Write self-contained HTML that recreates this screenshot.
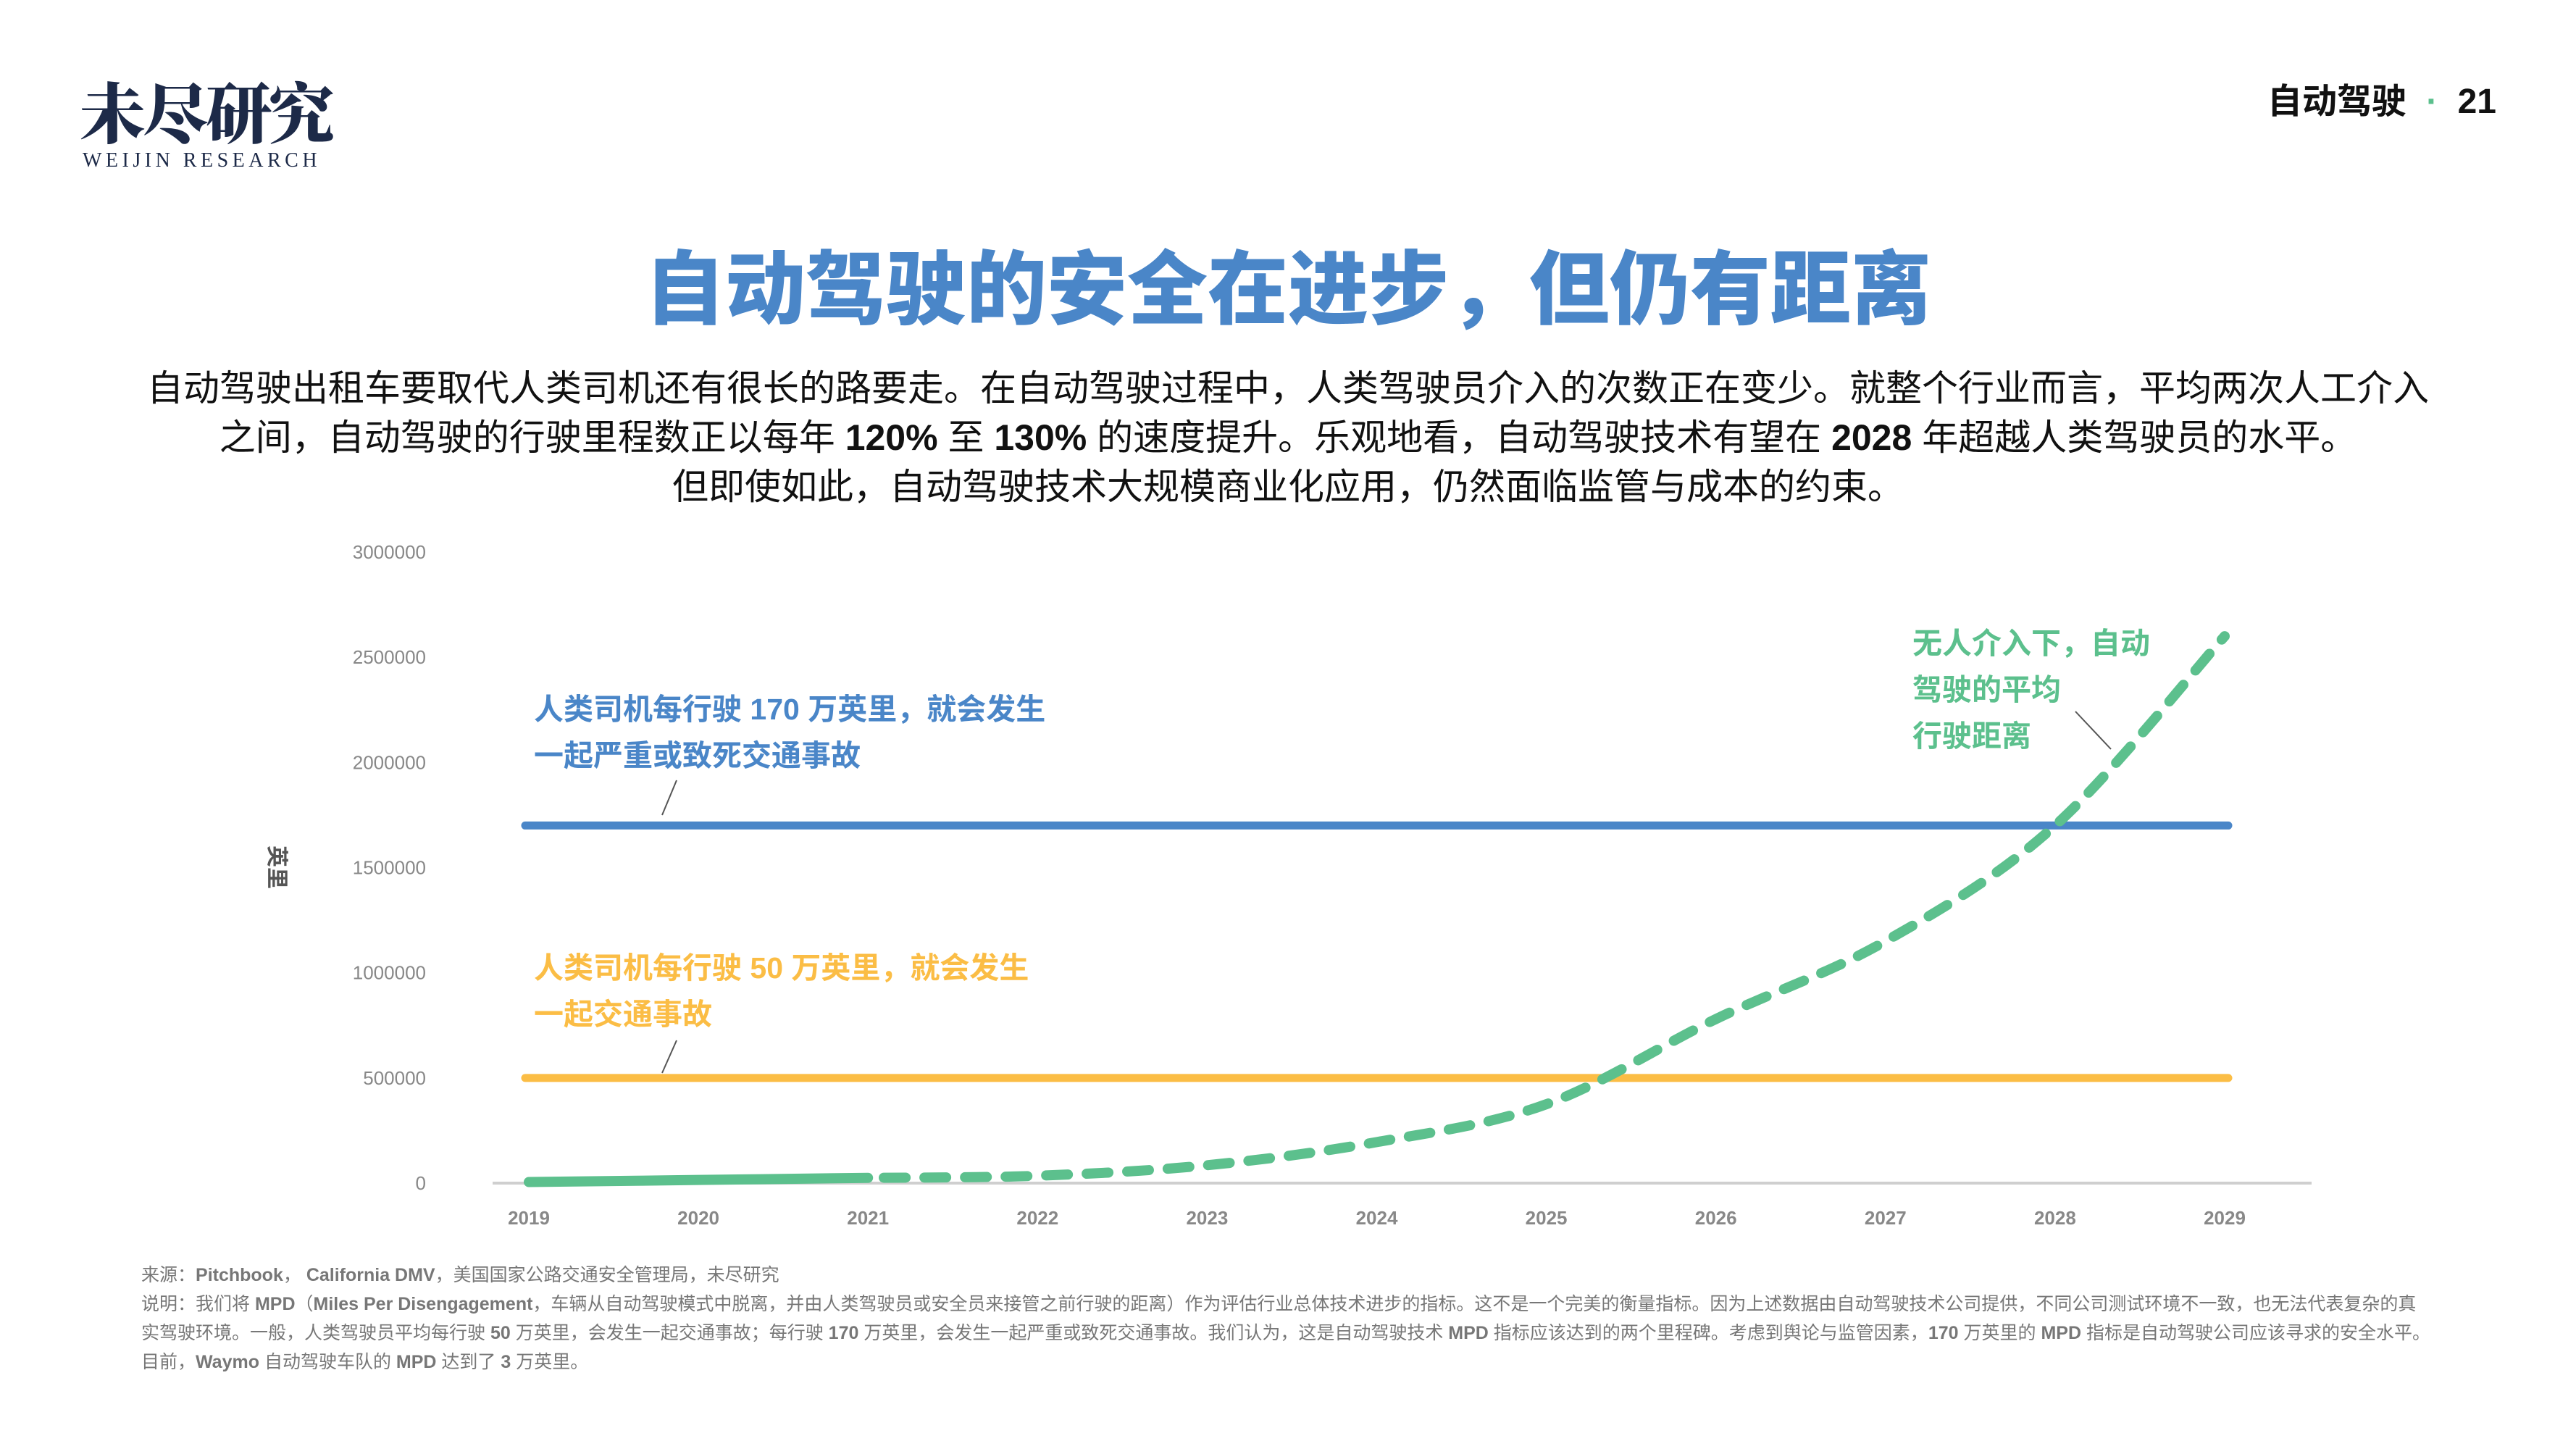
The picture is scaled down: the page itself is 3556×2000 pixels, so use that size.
<!DOCTYPE html>
<html><head><meta charset="utf-8">
<style>
html,body{margin:0;padding:0;background:#fff;}
body{width:3556px;height:2000px;position:relative;overflow:hidden;font-family:"Liberation Sans","Noto Sans CJK SC",sans-serif;}
.abs{position:absolute;}
</style></head>
<body>
<div class="abs" style="left:110px;top:100px;">
  <div style="font-family:'Noto Serif CJK SC',serif;font-weight:900;font-size:91px;color:#1d2a48;letter-spacing:-4px;line-height:104px;">未尽研究</div>
  <div style="font-family:'Liberation Serif',serif;font-size:28px;color:#1d2a48;letter-spacing:5.5px;margin-top:2px;margin-left:4px;">WEIJIN RESEARCH</div>
</div>
<div class="abs" style="right:110px;top:100px;font-size:48px;font-weight:bold;color:#111;font-family:'Liberation Sans','Noto Sans CJK SC',sans-serif;">自动驾驶 <span style="color:#5bbf8c;margin:0 14px;">·</span> 21</div>
<div class="abs" style="left:0;width:3556px;top:330px;text-align:center;font-size:111px;font-weight:900;color:#4a86c8;line-height:140px;">自动驾驶的安全在进步，但仍有距离</div>
<div class="abs" style="left:150px;width:3256px;top:502px;text-align:center;font-size:50px;line-height:68px;color:#111;">自动驾驶出租车要取代人类司机还有很长的路要走。在自动驾驶过程中，人类驾驶员介入的次数正在变少。就整个行业而言，平均两次人工介入<br>之间，自动驾驶的行驶里程数正以每年 <b>120%</b> 至 <b>130%</b> 的速度提升。乐观地看，自动驾驶技术有望在 <b>2028</b> 年超越人类驾驶员的水平。<br>但即使如此，自动驾驶技术大规模商业化应用，仍然面临监管与成本的约束。</div>

<svg class="abs" style="left:0;top:0" width="3556" height="2000" id="chart"></svg>

<div class="abs" style="left:195px;top:1740px;width:3165px;font-size:25px;line-height:40px;color:#777;">
<div>来源：<b>Pitchbook</b>， <b>California DMV</b>，美国国家公路交通安全管理局，未尽研究</div>
<div>说明：我们将 <b>MPD</b>（<b>Miles Per Disengagement</b>，车辆从自动驾驶模式中脱离，并由人类驾驶员或安全员来接管之前行驶的距离）作为评估行业总体技术进步的指标。这不是一个完美的衡量指标。因为上述数据由自动驾驶技术公司提供，不同公司测试环境不一致，也无法代表复杂的真实驾驶环境。一般，人类驾驶员平均每行驶 <b>50</b> 万英里，会发生一起交通事故；每行驶 <b>170</b> 万英里，会发生一起严重或致死交通事故。我们认为，这是自动驾驶技术 <b>MPD</b> 指标应该达到的两个里程碑。考虑到舆论与监管因素，<b>170</b> 万英里的 <b>MPD</b> 指标是自动驾驶公司应该寻求的安全水平。<br>目前，<b>Waymo</b> 自动驾驶车队的 <b>MPD</b> 达到了 <b>3</b> 万英里。</div>
</div>

<script>
const years = [2019,2020,2021,2022,2023,2024,2025,2026,2027,2028,2029];
const autoMiles = [5000,15000,25000,35000,85000,195000,375000,780000,1150000,1700000,2600000];
const seriousThreshold = 1700000;
const accidentThreshold = 500000;
const yTicks = [0,500000,1000000,1500000,2000000,2500000,3000000];

const NS='http://www.w3.org/2000/svg';
const svg=document.getElementById('chart');
const X0=730,X1=3071,Y0=1633,Ymax=762;
const x=y=>X0+(y-years[0])/(years[years.length-1]-years[0])*(X1-X0);
const yv=v=>Y0-v/3000000*(Y0-Ymax);
function mk(tag,attrs,parent){const e=document.createElementNS(NS,tag);for(const k in attrs)e.setAttribute(k,attrs[k]);(parent||svg).appendChild(e);return e;}

const axis=mk('line',{x1:680,x2:3191,y1:Y0,y2:Y0,stroke:'#cfcfcf','stroke-width':4});



yTicks.forEach(t=>{
  const tx=mk('text',{x:588,y:yv(t)+9,'text-anchor':'end','font-size':26,fill:'#888','font-family':'Liberation Sans, sans-serif'});
  tx.textContent=t;
  
  
});
years.forEach(yr=>{
  const tx=mk('text',{x:x(yr),y:1690,'text-anchor':'middle','font-size':26,'font-weight':'bold',fill:'#888','font-family':'Liberation Sans, sans-serif'});
  tx.textContent=yr;
  
  
});
const yt=mk('text',{x:0,y:0,transform:'translate(372,1197) rotate(90)','text-anchor':'middle','font-size':30,'font-weight':'bold',fill:'#555','font-family':'Liberation Sans, Noto Sans CJK SC, sans-serif'});
yt.textContent='英里';



const bl=mk('line',{x1:x(years[0])-5,x2:x(years[10])+5,y1:yv(seriousThreshold),y2:yv(seriousThreshold),stroke:'#4a86c8','stroke-width':11,'stroke-linecap':'round'});


const ol=mk('line',{x1:x(years[0])-5,x2:x(years[10])+5,y1:yv(accidentThreshold),y2:yv(accidentThreshold),stroke:'#fbbd45','stroke-width':11,'stroke-linecap':'round'});



const pts=years.map((yr,i)=>[x(yr),yv(autoMiles[i])]);
function path(p){let d='M'+p[0][0]+','+p[0][1];for(let i=0;i<p.length-1;i++){const a=p[i-1]||p[i],b=p[i],c=p[i+1],e=p[i+2]||c;
 d+=' C'+(b[0]+(c[0]-a[0])/6)+','+(b[1]+(c[1]-a[1])/6)+' '+(c[0]-(e[0]-b[0])/6)+','+(c[1]-(e[1]-b[1])/6)+' '+c[0]+','+c[1];}return d;}
const solid=mk('path',{d:path(pts.slice(0,3)),fill:'none',stroke:'#5cc08d','stroke-width':14,'stroke-linecap':'round'});


const dash=mk('path',{d:path(pts.slice(2)),fill:'none',stroke:'#5cc08d','stroke-width':14,'stroke-linecap':'round','stroke-dasharray':'30 26','stroke-dashoffset':'-22'});



function label(lines,x0,y0,color,name){lines.forEach((s,i)=>{const t=mk('text',{x:x0,y:y0+i*64,'font-size':41,'font-weight':'bold',fill:color,'font-family':'Liberation Sans, Noto Sans CJK SC, sans-serif'});t.textContent=s;
 
 });}
label(['人类司机每行驶 170 万英里，就会发生','一起严重或致死交通事故'],737,993,'#4a86c8','serious-annotation');
label(['人类司机每行驶 50 万英里，就会发生','一起交通事故'],737,1350,'#fbbd45','accident-annotation');
label(['无人介入下，自动','驾驶的平均','行驶距离'],2640,902,'#5cc08d','auto-annotation');
[[934,1077,914,1125],[934,1436,914,1481],[2865,982,2914,1034]].forEach(l=>{const e=mk('line',{x1:l[0],y1:l[1],x2:l[2],y2:l[3],stroke:'#555','stroke-width':2});
 
 });
</script>
</body></html>
